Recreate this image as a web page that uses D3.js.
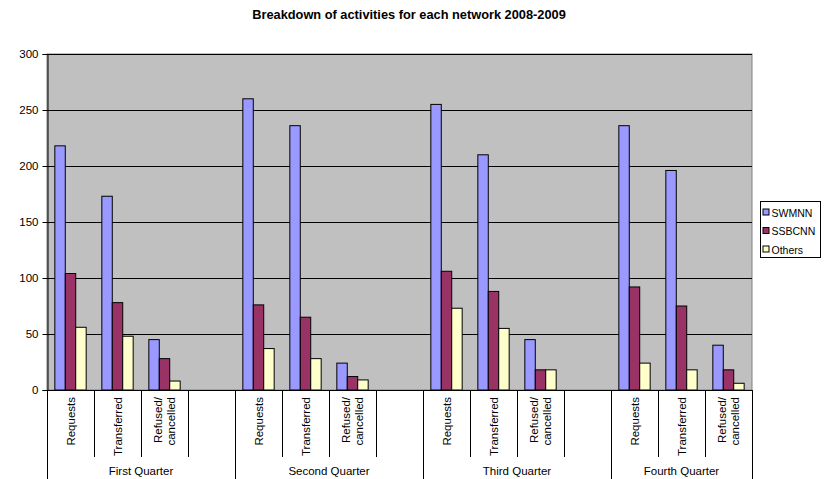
<!DOCTYPE html>
<html>
<head>
<meta charset="utf-8">
<script src="https://cdn.jsdelivr.net/npm/d3@7/dist/d3.min.js"></script>
<style>
  html, body { margin: 0; padding: 0; background: #ffffff; }
  svg { display: block; font-family: "Liberation Sans", Arial, sans-serif; }
</style>
</head>
<body>
<svg id="chart" width="830" height="479"></svg>
<script>
// Activity counts per network, one inner array per quarter:
// [Requests, Transferred, Refused/cancelled]
const quarters = ["First Quarter", "Second Quarter", "Third Quarter", "Fourth Quarter"];
const activities = ["Requests", "Transferred", "Refused/cancelled"];
const seriesNames = ["SWMNN", "SSBCNN", "Others"];
const swmnn  = [[218, 173, 45], [260, 236, 24], [255, 210, 45], [236, 196, 40]];
const ssbcnn = [[104, 78, 28], [76, 65, 12], [106, 88, 18], [92, 75, 18]];
const others = [[56, 48, 8], [37, 28, 9], [73, 55, 18], [24, 18, 6]];
const yTicks = [0, 50, 100, 150, 200, 250, 300];

const colors = { SWMNN: "#9999ff", SSBCNN: "#993366", Others: "#ffffcc" };
const seriesData = { SWMNN: swmnn, SSBCNN: ssbcnn, Others: others };

// Slots along the x axis: three activities per quarter with an empty slot between quarters
const slots = [];
quarters.forEach((q, qi) => {
  activities.forEach((a, ai) => slots.push({ key: qi + "-" + ai, quarter: qi, activity: ai }));
  if (qi < quarters.length - 1) slots.push({ key: qi + "-gap", quarter: qi, activity: null });
});

const svg = d3.select("#chart");
const plot = { left: 47, right: 752, top: 54, bottom: 390 };

const x = d3.scaleBand().domain(slots.map(s => s.key)).range([plot.left, plot.right]).padding(0);
const xs = d3.scaleBand().domain(seriesNames).range([0, x.bandwidth()]).paddingInner(0).paddingOuter(0.75);
const y = d3.scaleLinear().domain([0, 300]).range([plot.bottom, plot.top]);

// Plot background
svg.append("rect")
  .attr("x", plot.left).attr("y", plot.top)
  .attr("width", plot.right - plot.left).attr("height", plot.bottom - plot.top)
  .attr("fill", "#c0c0c0").attr("stroke", "#808080").attr("stroke-width", 1);

// Horizontal gridlines
svg.append("g").selectAll("line")
  .data(yTicks.filter(t => t > 0))
  .join("line")
  .attr("x1", plot.left).attr("x2", plot.right)
  .attr("y1", d => Math.round(y(d)) + 0.5).attr("y2", d => Math.round(y(d)) + 0.5)
  .attr("stroke", "#000").attr("stroke-width", 1);

// Bars
const bars = [];
slots.filter(s => s.activity !== null).forEach(s => {
  seriesNames.forEach(name => {
    bars.push({ slot: s.key, series: name, value: seriesData[name][s.quarter][s.activity] });
  });
});
svg.append("g").selectAll("rect")
  .data(bars)
  .join("rect")
  .attr("x", d => x(d.slot) + xs(d.series))
  .attr("y", d => y(d.value))
  .attr("width", xs.bandwidth())
  .attr("height", d => y(0) - y(d.value))
  .attr("fill", d => colors[d.series])
  .attr("stroke", "#000").attr("stroke-width", 1);

// Y axis
const yAxis = d3.axisLeft(y).tickValues(yTicks).tickSize(5).tickPadding(4);
const gy = svg.append("g").attr("transform", `translate(${plot.left + 0.5},0)`).call(yAxis);
gy.select(".domain").attr("stroke", "#000");
gy.selectAll(".tick line").attr("stroke", "#000");
gy.selectAll(".tick text").attr("font-size", "11.5px").attr("fill", "#000")
  .attr("font-family", "'Liberation Sans', Arial, sans-serif");

// X axis baseline
svg.append("line")
  .attr("x1", plot.left).attr("x2", plot.right)
  .attr("y1", plot.bottom + 0.5).attr("y2", plot.bottom + 0.5)
  .attr("stroke", "#000").attr("stroke-width", 1);

// Slot boundary ticks: short ones between activities, long ones between quarters
const boundaries = slots.map((s, i) => ({
  pos: x(s.key),
  long: i === 0 || (s.activity === 0)
}));
boundaries.push({ pos: plot.right, long: true });
svg.append("g").selectAll("line")
  .data(boundaries)
  .join("line")
  .attr("x1", d => Math.round(d.pos) + 0.5).attr("x2", d => Math.round(d.pos) + 0.5)
  .attr("y1", plot.bottom).attr("y2", d => d.long ? 479 : 457)
  .attr("stroke", "#000").attr("stroke-width", 1);

// Activity labels, rotated, top-aligned under the axis
const labelG = svg.append("g").attr("font-size", "11.5px").attr("fill", "#000");
slots.filter(s => s.activity !== null).forEach(s => {
  const cx = x(s.key) + x.bandwidth() / 2;
  const name = activities[s.activity];
  const lines = name.includes("/") ? [name.slice(0, name.indexOf("/") + 1), name.slice(name.indexOf("/") + 1)] : [name];
  const lineGap = 13.5;
  lines.forEach((ln, li) => {
    const offset = (li - (lines.length - 1) / 2) * lineGap;
    labelG.append("text")
      .attr("transform", `translate(${cx + offset + 4},${plot.bottom + 7}) rotate(-90)`)
      .attr("text-anchor", "end")
      .text(ln);
  });
});

// Quarter labels centered in each quarter span
quarters.forEach((q, qi) => {
  const qs = slots.filter(s => s.quarter === qi && s.activity !== null);
  const start = x(qs[0].key);
  const end = x(qs[qs.length - 1].key) + x.bandwidth();
  const spanEnd = qi < quarters.length - 1 ? end + x.bandwidth() : end;
  svg.append("text")
    .attr("x", (start + spanEnd) / 2).attr("y", 475)
    .attr("text-anchor", "middle").attr("font-size", "11.5px")
    .text(q);
});

// Title
svg.append("text")
  .attr("x", 409).attr("y", 18.5)
  .attr("text-anchor", "middle")
  .attr("font-size", "12.8px").attr("font-weight", "bold")
  .text("Breakdown of activities for each network 2008-2009");

// Legend
const legend = svg.append("g").attr("transform", "translate(760.5,201.5)");
legend.append("rect").attr("width", 60).attr("height", 56)
  .attr("fill", "#fff").attr("stroke", "#000").attr("stroke-width", 1);
seriesNames.forEach((name, i) => {
  const row = legend.append("g").attr("transform", `translate(2.5,${7.5 + i * 18.5})`);
  row.append("rect").attr("width", 6).attr("height", 6)
    .attr("fill", colors[name]).attr("stroke", "#000").attr("stroke-width", 1);
  row.append("text").attr("x", 8.5).attr("y", 7.5)
    .attr("font-size", "10.5px").text(name);
});
</script>
</body>
</html>
